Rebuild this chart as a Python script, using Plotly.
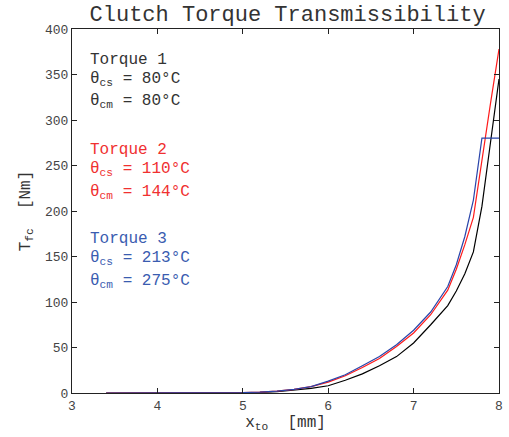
import plotly.graph_objects as go

x_black = [3.4, 4.0, 4.5, 5.0, 5.2, 5.4, 5.6, 5.8, 6.0, 6.2, 6.4, 6.6, 6.8, 7.0, 7.2, 7.4, 7.5, 7.6, 7.7, 7.8, 7.9, 8.0]
y_black = [0, 0, 0, 0.3, 0.7, 1.5, 3, 5, 8, 14, 21, 30, 40, 55, 75, 96, 112, 131, 155, 205, 275, 345]

x_red = [3.4, 4.0, 4.5, 5.0, 5.2, 5.4, 5.6, 5.8, 6.0, 6.2, 6.4, 6.6, 6.8, 7.0, 7.2, 7.4, 7.5, 7.6, 7.7, 7.8, 7.9, 8.0]
y_red = [0, 0, 0.2, 0.5, 1, 2, 4, 7, 12, 19, 28, 38, 51, 66, 86, 113, 136, 163, 193, 258, 318, 378]

x_blue = [3.4, 4.0, 4.5, 5.0, 5.2, 5.4, 5.6, 5.8, 6.0, 6.2, 6.4, 6.6, 6.8, 7.0, 7.2, 7.4, 7.5, 7.6, 7.7, 7.8, 8.0]
y_blue = [0, 0, 0.2, 0.5, 1, 2, 4, 7, 13, 20, 30, 40, 53, 69, 89, 117, 141, 172, 212, 280, 280]

FONT = "Liberation Mono, Courier New, monospace"
C_BLACK = "#000000"
C_RED = "#ff1a1a"
C_BLUE = "#2944aa"
T_BLACK = "#333333"
T_RED = "#f03030"
T_BLUE = "#3a5cb0"

fig = go.Figure()
fig.add_trace(go.Scatter(x=x_black, y=y_black, mode="lines", line=dict(color=C_BLACK, width=1.2)))
fig.add_trace(go.Scatter(x=x_red, y=y_red, mode="lines", line=dict(color=C_RED, width=1.2)))
fig.add_trace(go.Scatter(x=x_blue, y=y_blue, mode="lines", line=dict(color=C_BLUE, width=1.2)))

labels = [
    ("Torque 1", 60, T_BLACK),
    ("θ<sub>cs</sub> = 80°C", 80, T_BLACK),
    ("θ<sub>cm</sub> = 80°C", 102, T_BLACK),
    ("Torque 2", 150, T_RED),
    ("θ<sub>cs</sub> = 110°C", 169, T_RED),
    ("θ<sub>cm</sub> = 144°C", 192, T_RED),
    ("Torque 3", 239, T_BLUE),
    ("θ<sub>cs</sub> = 213°C", 258, T_BLUE),
    ("θ<sub>cm</sub> = 275°C", 281, T_BLUE),
]
for txt, ypx, col in labels:
    fig.add_annotation(
        text=txt, xref="paper", yref="paper",
        x=(88 - 72) / (503 - 72), y=(393 - ypx) / (393 - 29),
        xanchor="left", yanchor="middle", showarrow=False,
        font=dict(family=FONT, size=16, color=col),
    )

axis_common = dict(
    showline=True, linecolor="#222222", linewidth=1.2, mirror="ticks",
    ticks="inside", ticklen=5, tickcolor="#222222", showgrid=False, zeroline=False,
    tickfont=dict(family=FONT, size=13, color="#444444"),
)

fig.update_layout(
    width=509, height=437,
    margin=dict(l=72, r=6, t=29, b=44),
    paper_bgcolor="white", plot_bgcolor="white",
    showlegend=False,
    title=dict(text="Clutch Torque Transmissibility", x=0.565, xanchor="center",
               y=1 - 13 / 437, yanchor="middle",
               font=dict(family=FONT, size=22, color="#333333")),
    xaxis=dict(range=[3, 8], dtick=1, tick0=3,
               title=dict(text="x<sub>to</sub>  [mm]", standoff=2,
                          font=dict(family=FONT, size=16, color="#333333")),
               **axis_common),
    yaxis=dict(range=[0, 400], dtick=50, tick0=0,
               title=dict(text="T<sub>fc</sub>  [Nm]", standoff=10,
                          font=dict(family=FONT, size=16, color="#333333")),
               **axis_common),
)

fig.write_html("out.html")
